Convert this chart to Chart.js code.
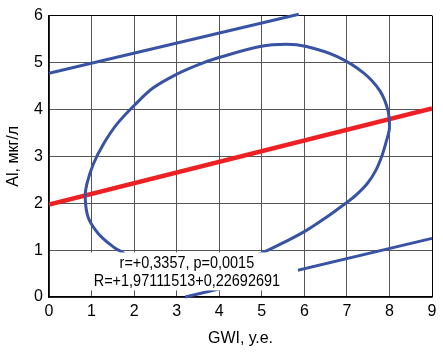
<!DOCTYPE html>
<html>
<head>
<meta charset="utf-8">
<script src="https://cdn.jsdelivr.net/npm/chart.js@4"></script>
<style>
  body { margin: 0; background: #fff; }
  #wrap { width: 443px; height: 354px; }
</style>
</head>
<body>
<div id="wrap"><canvas id="chart"></canvas></div>
<script>
// regression line Al = 1,97 + 0,227 * GWI
const regX = [0, 9];
const regY = [1.97, 4.02];

// upper and lower bounds (straight lines)
const upperX = [0, 5.87];
const upperY = [4.77, 6.03];
const lowerX = [3.2, 9];
const lowerY = [0, 1.25];

// confidence ellipse, read point by point around the curve
const ellipseX = [3.3, 2.6, 2.1, 1.75, 1.51, 1.16, 0.92, 0.85, 0.89, 1.04, 1.28, 1.59, 2.02, 2.45, 3.0, 3.5, 3.94, 4.96, 5.58, 6.05, 6.76, 7.39, 7.78, 7.97, 8.0, 7.92, 7.82, 7.68, 7.48, 7.22, 6.9, 6.52, 6.05, 5.58, 5.1, 4.5, 3.9, 3.3];
const ellipseY = [0.52, 0.6, 0.75, 0.94, 1.07, 1.35, 1.7, 2.13, 2.41, 2.83, 3.26, 3.68, 4.1, 4.46, 4.75, 4.95, 5.09, 5.34, 5.39, 5.34, 5.13, 4.78, 4.39, 3.96, 3.6, 3.3, 3.0, 2.7, 2.42, 2.18, 1.95, 1.7, 1.42, 1.19, 0.98, 0.75, 0.6, 0.52];

const statLines = ['r=+0,3357, p=0,0015', 'R=+1,97111513+0,22692691'];

const FONT = "'Liberation Sans', Arial, sans-serif";
const BLUE = '#3953a4';
const RED = '#ed2024';

function toPoints (xs, ys) {
  return xs.map((x, i) => ({ x, y: ys[i] }));
}

// white box with the statistics, drawn over the lines
const statBox = {
  id: 'statBox',
  afterDatasetsDraw (chart) {
    const { ctx, scales: { x, y } } = chart;
    const left = x.getPixelForValue(0.92);
    const right = x.getPixelForValue(5.85);
    const top = y.getPixelForValue(0.95);
    const bottom = y.getPixelForValue(0.14);
    ctx.save();
    ctx.fillStyle = '#fff';
    ctx.fillRect(left, top, right - left, bottom - top);
    ctx.fillStyle = '#000';
    ctx.font = '17px ' + FONT;
    ctx.textAlign = 'center';
    ctx.textBaseline = 'middle';
    // narrow face is not available, squeeze the text horizontally
    const cx = x.getPixelForValue(3.24);
    ctx.translate(cx, 0);
    ctx.scale(0.85, 1);
    ctx.fillText(statLines[0], 0, y.getPixelForValue(0.72));
    ctx.fillText(statLines[1], 0, y.getPixelForValue(0.34));
    ctx.restore();
  }
};

function gridColor (max) {
  return ctx => (ctx.tick && ctx.tick.value === max ? '#000' : '#555');
}

// eslint-disable-next-line no-undef
new Chart('chart', {
  type: 'scatter',
  data: {
    datasets: [
      { data: toPoints(ellipseX, ellipseY), showLine: true, borderColor: BLUE, borderWidth: 3, pointRadius: 0, tension: 0.35, fill: false },
      { data: toPoints(upperX, upperY), showLine: true, borderColor: BLUE, borderWidth: 3, pointRadius: 0, fill: false, clip: 4 },
      { data: toPoints(lowerX, lowerY), showLine: true, borderColor: BLUE, borderWidth: 3, pointRadius: 0, fill: false, clip: 4 },
      { data: toPoints(regX, regY), showLine: true, borderColor: RED, borderWidth: 4.5, pointRadius: 0, fill: false }
    ]
  },
  options: {
    responsive: true,
    maintainAspectRatio: false,
    animation: false,
    layout: { padding: { left: 0, top: 14, right: 11, bottom: 0 } },
    plugins: { legend: { display: false }, tooltip: { enabled: false } },
    scales: {
      x: {
        min: 0,
        max: 9,
        afterFit: scale => { scale.height = 57; },
        ticks: { stepSize: 1, color: '#000', padding: 5, font: { family: FONT, size: 16 } },
        grid: { color: gridColor(9), lineWidth: 1, drawTicks: false },
        border: { color: '#000', width: 1.5 },
        title: { display: true, text: 'GWI, у.е.', color: '#000', padding: { top: 0, bottom: 6 }, font: { family: FONT, size: 16 } }
      },
      y: {
        min: 0,
        max: 6,
        afterFit: scale => { scale.width = 49; },
        ticks: { stepSize: 1, color: '#000', padding: 6, font: { family: FONT, size: 16 } },
        grid: { color: gridColor(6), lineWidth: 1, drawTicks: false },
        border: { color: '#000', width: 1.5 },
        title: { display: true, text: 'Al, мкг/л', color: '#000', padding: { top: 4, bottom: 0 }, font: { family: FONT, size: 16 } }
      }
    }
  },
  plugins: [statBox]
});
</script>
</body>
</html>
